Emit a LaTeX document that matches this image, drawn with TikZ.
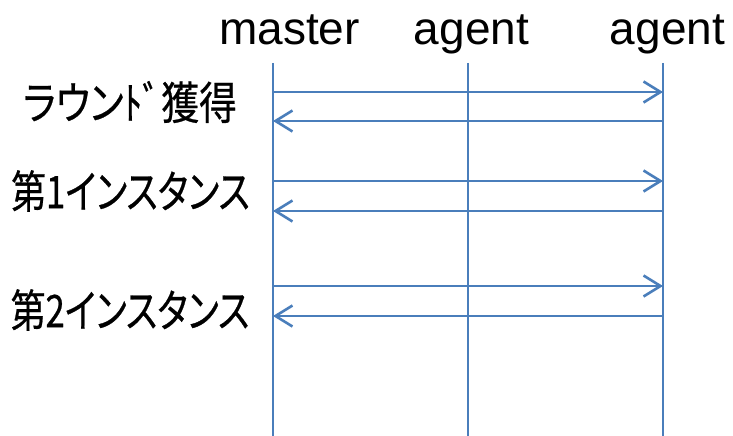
\documentclass[tikz,border=0pt]{standalone}
\usepackage{fontspec}
\setmainfont{Liberation Sans}
\newfontfamily\jp[RawFeature=+palt,FakeBold=0.6]{Noto Sans CJK JP}
\usetikzlibrary{arrows.meta}
\definecolor{lineblue}{HTML}{4A7EBB}
\tikzset{
  lifeline/.style={draw=lineblue, line width=2.6pt},
  msg/.style={draw=lineblue, line width=2.6pt, -{Straight Barb[length=17pt,width=21pt]}},
  head/.style={anchor=base, font=\fontsize{46}{50}\selectfont, inner sep=0pt},
  jlabel/.style={anchor=center, font=\jp\fontsize{45}{48}\selectfont, inner sep=0pt}
}
\begin{document}
\begin{tikzpicture}[x=1pt,y=-1pt]
\useasboundingbox (0,0) rectangle (733,436);
\node[head] (hm) at (289.5,45) {master};
\node[head] (ha1) at (471.5,45) {agent};
\node[head] (ha2) at (667.5,45) {agent};
\coordinate (mt) at (273,63); \coordinate (mb) at (273,436);
\coordinate (at1) at (468,63); \coordinate (ab1) at (468,436);
\coordinate (at2) at (663,63); \coordinate (ab2) at (663,436);
\draw[lifeline] (mt) -- (mb);
\draw[lifeline] (at1) -- (ab1);
\draw[lifeline] (at2) -- (ab2);
\foreach \n/\yr/\yl in {1/92/121, 2/181/211, 3/286/316}{
  \coordinate (ms\n) at (273,\yr); \coordinate (ar\n) at (663,\yr);
  \coordinate (mr\n) at (273,\yl); \coordinate (as\n) at (663,\yl);
  \draw[msg] (ms\n) -- (ar\n);
  \draw[msg] (as\n) -- (mr\n);
}
\node[jlabel] (l1) at (130,102) {\scalebox{0.84}[1]{ラウンﾄﾞ獲得}};
\node[jlabel] (l2) at (130.5,191) {\scalebox{0.775}[1]{第1インスタンス}};
\node[jlabel] (l3) at (130,310) {\scalebox{0.775}[1]{第2インスタンス}};
\end{tikzpicture}
\end{document}
